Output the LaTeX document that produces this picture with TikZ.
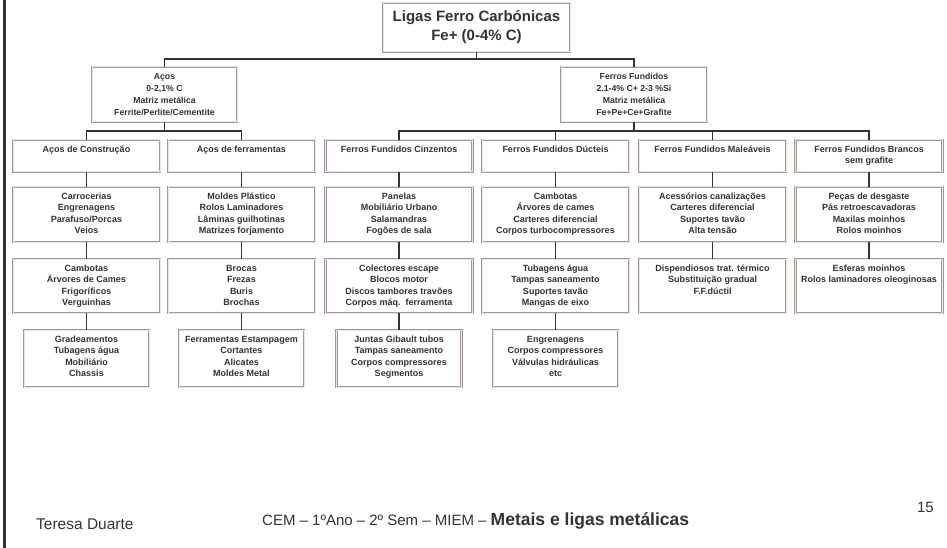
\documentclass[tikz,border=0pt]{standalone}
\usepackage{fontspec}
\setmainfont{Liberation Sans}
\usepackage{tikz}

\definecolor{boxline}{HTML}{A39893}
\definecolor{boxgap}{HTML}{EAE6E4}
\definecolor{txt}{HTML}{333333}
\definecolor{conncol}{HTML}{333333}

\newcommand{\topfont}{\fontsize{15}{19}\selectfont\bfseries}
\newcommand{\capfont}{\fontsize{8.7}{12}\selectfont\bfseries}
\newcommand{\itemfont}{\fontsize{9}{11.3}\selectfont\bfseries}
% box text: width, height, lines (top aligned)
\newcommand{\btext}[3]{\parbox[c][#2][t]{#1}{\centering\rule{0pt}{12.5pt}#3}}

\tikzset{
  box/.style={draw=boxline, double=boxgap, double distance=1pt, line width=0.75pt,
    fill=white, inner sep=0pt, text=txt, align=center},
  conn/.style={draw=conncol, line width=1.3pt},
}

\begin{document}
\begin{tikzpicture}[x=1pt,y=-1pt]
\useasboundingbox (0,0) rectangle (947,548);
\draw[line width=3pt, draw=conncol] (4,0) -- (4,548);
%top
\node[box, font=\topfont, minimum width=187pt, minimum height=49pt] (ligas) at (476.5,27.5) {Ligas Ferro Carbónicas\\Fe+ (0-4\% C)};
\node[box, font=\capfont, minimum width=145pt, minimum height=55pt] (acos) at (164.5,94.5) {Aços\\0-2,1\% C\\Matriz metálica\\Ferrite/Perlite/Cementite};
\node[box, font=\capfont, minimum width=146pt, minimum height=55pt] (ferros) at (634,94.5) {Ferros Fundidos\\2.1-4\% C+ 2-3 \%Si\\Matriz metálica\\Fe+Pe+Ce+Grafite};
%families
\node[box, font=\itemfont] (aconst) at (86.5,156) {\btext{147pt}{32pt}{Aços de Construção}};
\node[box, font=\itemfont] (aferr) at (241.5,156) {\btext{147pt}{32pt}{Aços de ferramentas}};
\node[box, font=\itemfont] (ffcinz) at (399,156) {\btext{147pt}{32pt}{Ferros Fundidos Cinzentos}};
\node[box, font=\itemfont] (ffduct) at (555.5,156) {\btext{147pt}{32pt}{Ferros Fundidos Dúcteis}};
\node[box, font=\itemfont] (ffmal) at (712.5,156) {\btext{147pt}{32pt}{Ferros Fundidos Maleáveis}};
\node[box, font=\itemfont] (ffbranc) at (869,156) {\btext{147pt}{32pt}{Ferros Fundidos Brancos\\sem grafite}};
%applications
\node[box, font=\itemfont] (aconst2) at (86.5,214.5) {\btext{147pt}{55pt}{Carrocerias\\Engrenagens\\Parafuso/Porcas\\Veios}};
\node[box, font=\itemfont] (aferr2) at (241.5,214.5) {\btext{147pt}{55pt}{Moldes Plástico\\Rolos Laminadores\\Lâminas guilhotinas\\Matrizes forjamento}};
\node[box, font=\itemfont] (ffcinz2) at (399,214.5) {\btext{147pt}{55pt}{Panelas\\Mobiliário Urbano\\Salamandras\\Fogões de sala}};
\node[box, font=\itemfont] (ffduct2) at (555.5,214.5) {\btext{147pt}{55pt}{Cambotas\\Árvores de cames\\Carteres diferencial\\Corpos turbocompressores}};
\node[box, font=\itemfont] (ffmal2) at (712.5,214.5) {\btext{147pt}{55pt}{Acessórios canalizações\\Carteres diferencial\\Suportes tavão\\Alta tensão}};
\node[box, font=\itemfont] (ffbranc2) at (869,214.5) {\btext{147pt}{55pt}{Peças de desgaste\\Pás retroescavadoras\\Maxilas moinhos\\Rolos moinhos}};
\node[box, font=\itemfont] (aconst3) at (86.5,286) {\btext{147pt}{54pt}{Cambotas\\Árvores de Cames\\Frigoríficos\\Verguinhas}};
\node[box, font=\itemfont] (aferr3) at (241.5,286) {\btext{147pt}{54pt}{Brocas\\Frezas\\Buris\\Brochas}};
\node[box, font=\itemfont] (ffcinz3) at (399,286) {\btext{147pt}{54pt}{Colectores escape\\Blocos motor\\Discos tambores travões\\Corpos máq.\ \ ferramenta}};
\node[box, font=\itemfont] (ffduct3) at (555.5,286) {\btext{147pt}{54pt}{Tubagens água\\Tampas saneamento\\Suportes tavão\\Mangas de eixo}};
\node[box, font=\itemfont] (ffmal3) at (712.5,286) {\btext{147pt}{54pt}{Dispendiosos trat. térmico\\Substituição gradual\\F.F.dúctil}};
\node[box, font=\itemfont] (ffbranc3) at (869,286) {\btext{147pt}{54pt}{Esferas moinhos\\Rolos laminadores oleoginosas}};
\node[box, font=\itemfont] (aconst4) at (86.5,358.5) {\btext{125pt}{57pt}{Gradeamentos\\Tubagens água\\Mobiliário\\Chassis}};
\node[box, font=\itemfont] (aferr4) at (241.5,358.5) {\btext{125pt}{57pt}{Ferramentas Estampagem\\Cortantes\\Alicates\\Moldes Metal}};
\node[box, font=\itemfont] (ffcinz4) at (399,358.5) {\btext{125pt}{57pt}{Juntas Gibault tubos\\Tampas saneamento\\Corpos compressores\\Segmentos}};
\node[box, font=\itemfont] (ffduct4) at (555.5,358.5) {\btext{125pt}{57pt}{Engrenagens\\Corpos compressores\\Válvulas hidráulicas\\etc}};
%connectors
\coordinate (j0) at (476.5,59);
\coordinate (j1) at (164.5,131);
\coordinate (j2) at (634,131);
\draw[conn] (ligas.south) -- (j0);
\draw[conn] (acos.north) |- (j0) -| (ferros.north);
\draw[conn] (acos.south) -- (j1);
\draw[conn] (aconst.north) |- (j1) -| (aferr.north);
\draw[conn] (ferros.south) -- (j2);
\draw[conn] (ffcinz.north) |- (j2) -| (ffbranc.north);
\draw[conn] (ffduct.north) -- (ffduct.north |- j2);
\draw[conn] (ffmal.north) -- (ffmal.north |- j2);
\draw[conn] (aconst.south) -- (aconst2.north);
\draw[conn] (aferr.south) -- (aferr2.north);
\draw[conn] (ffcinz.south) -- (ffcinz2.north);
\draw[conn] (ffduct.south) -- (ffduct2.north);
\draw[conn] (ffmal.south) -- (ffmal2.north);
\draw[conn] (ffbranc.south) -- (ffbranc2.north);
\draw[conn] (aconst2.south) -- (aconst3.north);
\draw[conn] (aferr2.south) -- (aferr3.north);
\draw[conn] (ffcinz2.south) -- (ffcinz3.north);
\draw[conn] (ffduct2.south) -- (ffduct3.north);
\draw[conn] (ffmal2.south) -- (ffmal3.north);
\draw[conn] (ffbranc2.south) -- (ffbranc3.north);
\draw[conn] (aconst3.south) -- (aconst4.north);
\draw[conn] (aferr3.south) -- (aferr4.north);
\draw[conn] (ffcinz3.south) -- (ffcinz4.north);
\draw[conn] (ffduct3.south) -- (ffduct4.north);
%footer
\node[anchor=base west, font=\fontsize{15.5}{18}\selectfont, text=txt, inner sep=0pt] (autor) at (36,529) {Teresa Duarte};
\node[anchor=base west, font=\fontsize{15}{18}\selectfont, text=txt, inner sep=0pt] (curso) at (262,525) {CEM – 1ºAno – 2º Sem – MIEM – {\fontsize{17.5}{20}\selectfont\bfseries Metais e ligas metálicas}};
\node[anchor=base east, font=\fontsize{15}{18}\selectfont, text=txt, inner sep=0pt] (pag) at (934,512) {15};
\end{tikzpicture}
\end{document}
